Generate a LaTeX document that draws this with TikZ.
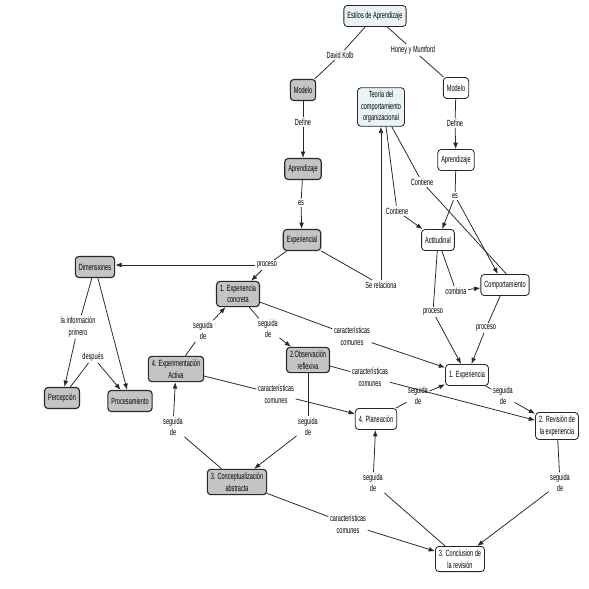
\documentclass[tikz,border=0pt]{standalone}
\usepackage{xcolor}
\usepackage{fontspec}
\usepackage{tikz}
\usetikzlibrary{arrows.meta, positioning}
\newfontfamily\mapfont[FakeStretch=0.62]{Liberation Sans}
\definecolor{cgray}{RGB}{196,196,196}
\definecolor{cblue}{RGB}{234,244,246}
\definecolor{cline}{RGB}{40,40,40}
\tikzset{
  grayconcept/.style={rectangle, draw=cline, fill=cgray,
    align=center, minimum height=15pt, inner xsep=2.5pt, inner ysep=2.5pt,
    font=\mapfont\fontsize{6.4}{8.2}\selectfont, rounded corners=2.5pt, line width=0.8pt},
  whiteconcept/.style={grayconcept, fill=white, line width=0.6pt},
  blueconcept/.style={grayconcept, fill=cblue, line width=0.6pt},
  linkphrase/.style={align=center, inner sep=1pt,
    font=\mapfont\fontsize{6.4}{8.2}\selectfont},
  link/.style={color=cline, line width=0.55pt},
  linkarrow/.style={-{Latex[length=4.5pt, width=3.4pt]}, color=cline, line width=0.55pt}
}

\begin{document}
\begin{tikzpicture}[x=0.025cm, y=-0.025cm]
  \useasboundingbox[fill=white] (0,0) rectangle (589,588);

  % Top concepts
  \node[blueconcept] (estilos) at (375,16) {Estilos de Aprendizaje};
  \node[grayconcept] (modeloL) at (303,90) {Modelo};
  \node[whiteconcept] (modeloR) at (456,88) {Modelo};
  \node[blueconcept] (teoria) at (381,107) {Teoría del\\comportamiento\\organizacional};
  \node[grayconcept] (aprenL) at (303,169) {Aprendizaje};
  \node[whiteconcept] (aprenR) at (456,160) {Aprendizaje};
  \node[grayconcept] (experiencial) at (302,240) {Experiencial};
  \node[whiteconcept] (actitud) at (438,240) {Actitudinal};
  \node[whiteconcept] (comport) at (505,285) {Comportamiento};

  % Kolb cycle
  \node[grayconcept] (dimen) at (95,267) {Dimensiones};
  \node[grayconcept] (expconc) at (238,294) {1. Experiencia\\concreta};
  \node[grayconcept] (obsref) at (308,360) {2.Observación\\reflexiva};
  \node[grayconcept] (expact) at (176,369) {4. Experimentación\\Activa};
  \node[grayconcept] (percep) at (62,398) {Percepción};
  \node[grayconcept] (proces) at (130,401) {Procesamiento};
  \node[grayconcept] (concep) at (237,482) {3. Conceptualización\\abstracta};

  % Honey y Mumford cycle
  \node[whiteconcept] (exp1) at (467,375) {1. Experiencia};
  \node[whiteconcept] (plan) at (376,419) {4. Planeación};
  \node[whiteconcept] (revis) at (557,426) {2. Revisión de\\la experiencia};
  \node[whiteconcept] (conclu) at (460,559) {3. Conclusion de\\la revisión};

  % Linking phrases
  \node[linkphrase] (kolb) at (340,55) {David Kolb};
  \node[linkphrase] (honey) at (413,50) {Honey y Mumford};
  \node[linkphrase] (defL) at (303,122) {Define};
  \node[linkphrase] (defR) at (455,123) {Define};
  \node[linkphrase] (esL) at (301,203) {es};
  \node[linkphrase] (esR) at (455,196) {es};
  \node[linkphrase] (contA) at (397,211) {Contiene};
  \node[linkphrase] (contB) at (422,182) {Contiene};
  \node[linkphrase] (serel) at (381,285) {Se relaciona};
  \node[linkphrase] (procE) at (267,265) {proceso};
  \node[linkphrase] (lainfo) at (78,327) {la información\\primero};
  \node[linkphrase] (despues) at (93,357) {después};
  \node[linkphrase] (segA) at (268,329) {seguida\\de};
  \node[linkphrase] (segB) at (203,331) {seguida\\de};
  \node[linkphrase] (segC) at (308,427) {seguida\\de};
  \node[linkphrase] (segD) at (173,427) {seguida\\de};
  \node[linkphrase] (carA) at (352,336) {características\\comunes};
  \node[linkphrase] (carB) at (370,377) {características\\comunes};
  \node[linkphrase] (carC) at (276,394) {características\\comunes};
  \node[linkphrase] (carD) at (348,524) {características\\comunes};
  \node[linkphrase] (combina) at (456,291) {combina};
  \node[linkphrase] (procA) at (433,312) {proceso};
  \node[linkphrase] (procB) at (486,328) {proceso};
  \node[linkphrase] (segE) at (418,396) {seguida\\de};
  \node[linkphrase] (segF) at (503,396) {seguida\\de};
  \node[linkphrase] (segG) at (560,483) {seguida\\de};
  \node[linkphrase] (segH) at (373,483) {seguida\\de};

  % Top links
  \draw[link] (estilos) -- (kolb);
  \draw[link] (kolb) -- (modeloL);
  \draw[link] (estilos) -- (honey);
  \draw[link] (honey) -- (modeloR);
  \draw[link] (modeloL) -- (defL);
  \draw[linkarrow] (defL) -- (aprenL);
  \draw[link] (modeloR) -- (defR);
  \draw[linkarrow] (defR) -- (aprenR);
  \draw[link] (aprenL) -- (esL);
  \draw[linkarrow] (esL) -- (experiencial);
  \draw[link] (aprenR) -- (esR);
  \draw[linkarrow] (esR) -- (actitud);
  \draw[linkarrow] (esR) -- ([xshift=-5pt]comport.north);
  \draw[link] (teoria.south) ++(5,0) -- (contA);
  \draw[linkarrow] (contA) -- (actitud);
  \draw[link] (teoria) -- (contB);
  \draw[link] (contB) -- ([xshift=1pt]comport.north);
  \draw[link] (experiencial) -- (serel);
  \draw[linkarrow] (serel) -- (teoria);
  \draw[link] (actitud) -- (combina);
  \draw[linkarrow] (combina) -- (comport);
  \draw[link] (actitud) -- (procA);
  \draw[linkarrow] (procA) -- (exp1);
  \draw[link] (comport) -- (procB);
  \draw[linkarrow] (procB) -- (exp1);

  % Kolb links
  \draw[link] (experiencial) -- (procE);
  \draw[linkarrow] (procE) -- (expconc);
  \draw[linkarrow] (procE) -- (procE -| dimen.east);
  \draw[link] (dimen) -- (lainfo);
  \draw[linkarrow] (lainfo) -- (percep);
  \draw[linkarrow] (dimen) -- (proces);
  \draw[link] (percep) -- (despues);
  \draw[linkarrow] (despues) -- (proces);
  \draw[link] (expconc) -- (segA);
  \draw[linkarrow] (segA) -- (obsref);
  \draw[link] (obsref) -- (segC);
  \draw[linkarrow] (segC) -- (concep);
  \draw[link] (concep) -- (segD);
  \draw[linkarrow] (segD) -- (expact);
  \draw[link] (expact) -- (segB);
  \draw[linkarrow] (segB) -- (expconc);

  % Characteristics in common
  \draw[link] (expconc) -- (carA);
  \draw[linkarrow] (carA) -- (exp1);
  \draw[link] (obsref) -- (carB);
  \draw[linkarrow] (carB) -- (revis);
  \draw[link] (expact) -- (carC);
  \draw[linkarrow] (carC) -- (plan);
  \draw[link] (concep) -- (carD);
  \draw[linkarrow] (carD) -- (conclu);

  % Honey y Mumford cycle links
  \draw[link] (exp1) -- (segF);
  \draw[linkarrow] (segF) -- (revis);
  \draw[link] (revis) -- (segG);
  \draw[linkarrow] (segG) -- (conclu);
  \draw[link] (conclu) -- (segH);
  \draw[linkarrow] (segH) -- (plan);
  \draw[link] (plan) -- (segE);
  \draw[linkarrow] (segE) -- (exp1);
\end{tikzpicture}
\end{document}
